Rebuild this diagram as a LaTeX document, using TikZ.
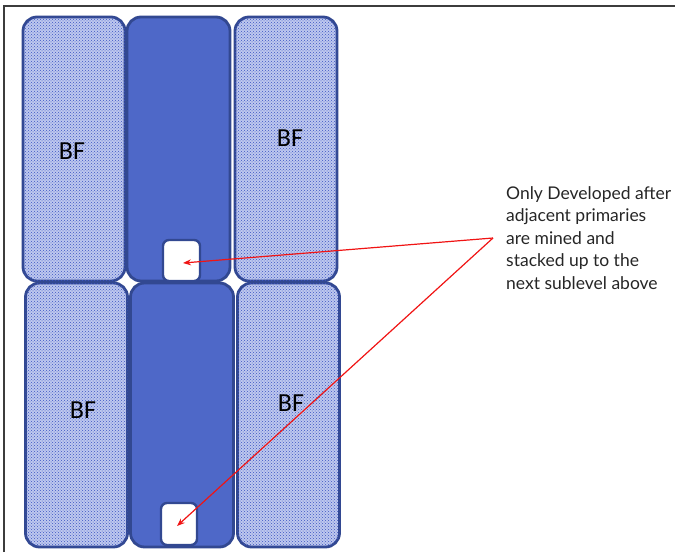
\documentclass[tikz,border=0pt]{standalone}
\usepackage{fontspec}
\setmainfont{Lato}
\newfontfamily\bffont{Carlito}
\usepackage{xcolor}
\usepackage{tikz}
\usetikzlibrary{arrows.meta,positioning,calc,patterns}
\definecolor{stopeblue}{RGB}{78, 104, 200}
\definecolor{edgenavy}{RGB}{50, 72, 145}
\definecolor{filllight}{RGB}{190, 200, 238}
\definecolor{dotblue}{RGB}{60, 85, 195}
\definecolor{framegray}{RGB}{60, 60, 60}
\definecolor{calloutred}{RGB}{240, 20, 20}

\begin{document}
\begin{tikzpicture}[x=1pt, y=-1pt,
    bfblock/.style={draw=edgenavy, line width=2.8pt, rounded corners=14pt,
        minimum width=102pt, minimum height=264pt, inner sep=0pt,
        fill=filllight, postaction={pattern=crosshatch dots, pattern color=dotblue}},
    primary/.style={draw=edgenavy, line width=2.8pt, rounded corners=14pt,
        minimum width=103pt, minimum height=264pt, fill=stopeblue},
    slot/.style={draw=edgenavy, line width=2.4pt, rounded corners=6pt,
        minimum width=37pt, minimum height=41pt, fill=white, inner sep=0pt},
    bflabel/.style={font=\bffont\fontsize{26}{26}\selectfont, text=black},
    pointer/.style={-{Stealth[length=8pt, width=6pt]}, line width=1.2pt, calloutred}]
    \useasboundingbox (0,0) rectangle (675,552);
    \draw[line width=1.3pt, framegray] (4,552) -- (4,6) -- (675,6);

    % upper sublevel
    \node[bfblock] (upleft) at (74,149) {};
    \node[primary] (upmid) at (178.5,149) {};
    \node[bfblock] (upright) at (286,149) {};
    \node[slot] (upslot) at (181.5,260.5) {};

    % lower sublevel
    \node[bfblock] (lowleft) at (76.5,415) {};
    \node[primary] (lowmid) at (182,415) {};
    \node[bfblock] (lowright) at (288.5,415) {};
    \node[slot, minimum width=36pt, minimum height=42pt] (lowslot) at (179,524) {};

    \node[bflabel] at (72,151) {BF};
    \node[bflabel] at (290,138) {BF};
    \node[bflabel] at (83,410) {BF};
    \node[bflabel] at (291,403) {BF};

    % note and pointers
    \node[anchor=west, align=left, inner sep=0pt, text=black!85,
        font=\fontsize{17.5}{22.5}\selectfont] (note) at (506,238)
        {Only Developed after\\adjacent primaries\\are mined and\\stacked up to the\\next sublevel above};
    \coordinate (notetip) at ([xshift=-13pt]note.west);
    \draw[pointer] (notetip) -- ([shift={(1.5pt,-2.5pt)}]upslot.center);
    \draw[pointer] (notetip) -- ([shift={(-2pt,-2pt)}]lowslot.center);
\end{tikzpicture}
\end{document}
